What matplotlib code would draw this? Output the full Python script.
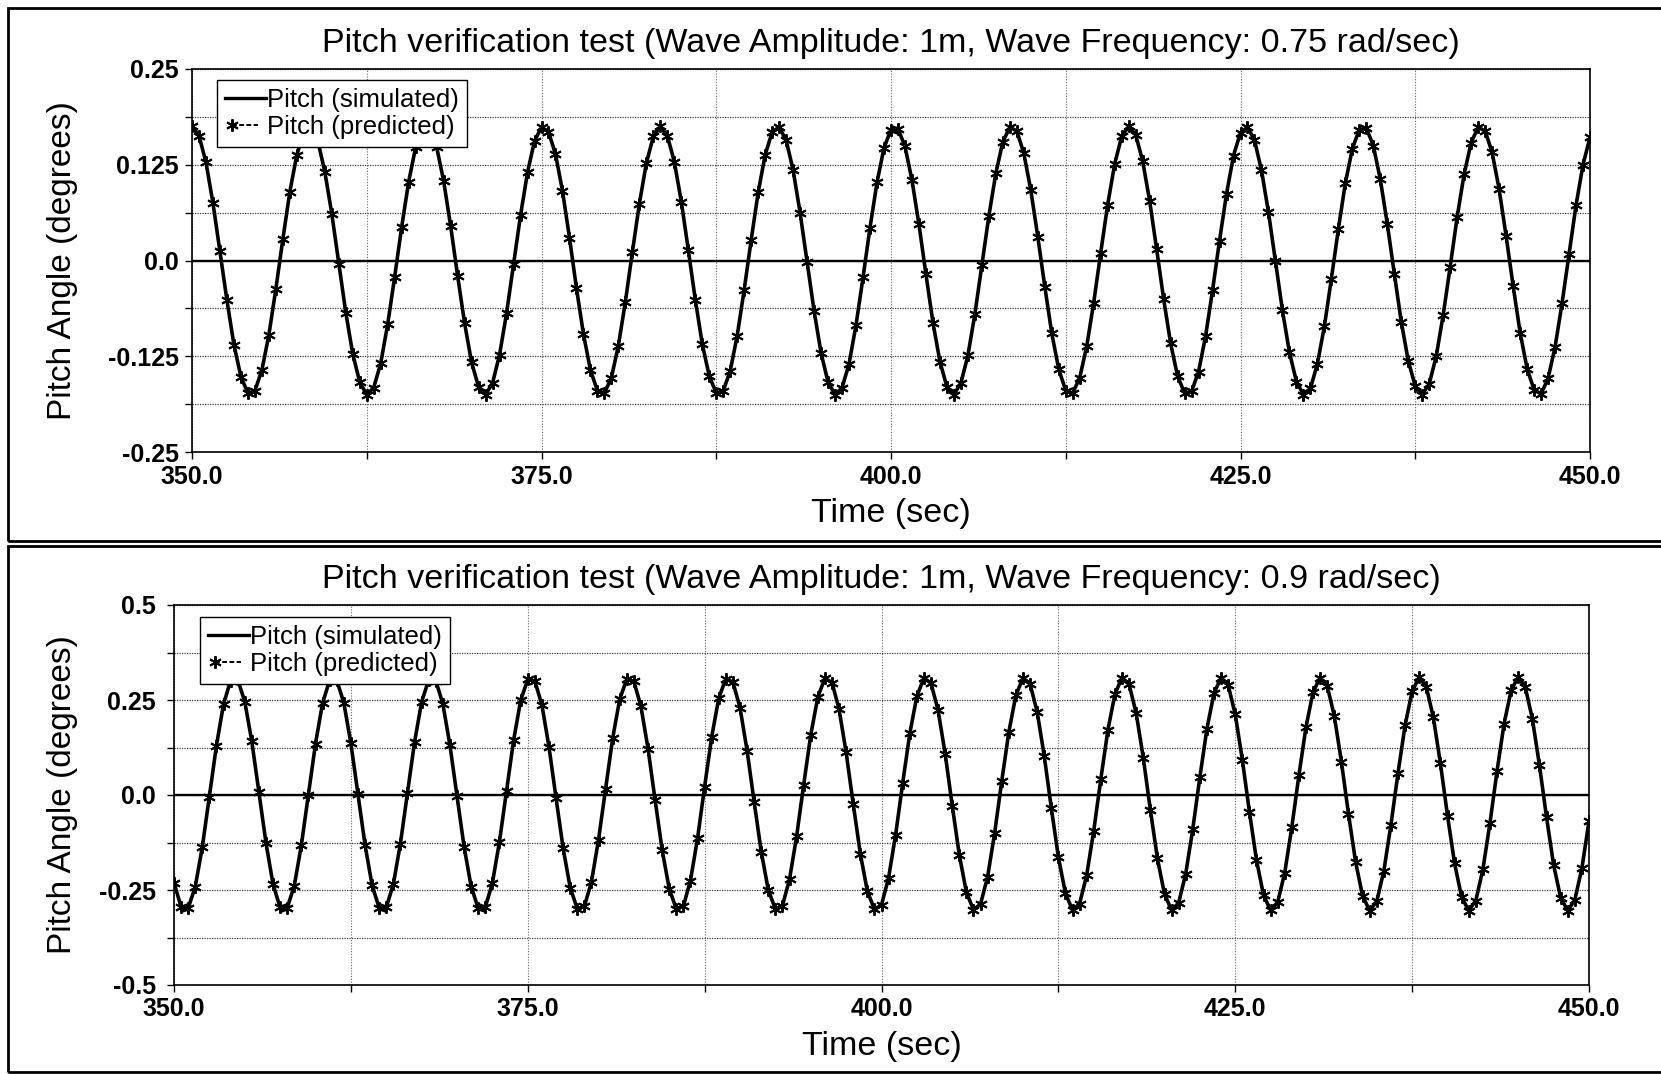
# pitch verification plots: simulated vs predicted pitch, two wave frequencies
import numpy as np
import matplotlib
matplotlib.use('Agg')
import matplotlib.pyplot as plt
from matplotlib.lines import Line2D
from matplotlib.patches import Rectangle
from matplotlib.legend_handler import HandlerLine2D
from matplotlib.ticker import FixedLocator, MultipleLocator

plt.rcParams['font.family'] = ['Liberation Sans', 'DejaVu Sans']

# sample times of the predicted points (0.5 s spacing)
time_s = np.arange(350.0, 450.5, 0.5)

# pitch (deg); simulated and predicted overlap
pitch_075 = [
    0.175, 0.163, 0.128, 0.075, 0.012, -0.052, -0.110, -0.152, -0.173, -0.170,
    -0.143, -0.097, -0.037, 0.028, 0.090, 0.138, 0.168,
    0.174, 0.156, 0.116, 0.061, -0.004, -0.068, -0.122, -0.159, -0.175, -0.166,
    -0.134, -0.083, -0.021, 0.044, 0.103, 0.148, 0.172,
    0.172, 0.148, 0.104, 0.045, -0.020, -0.082, -0.133, -0.165, -0.175, -0.160,
    -0.123, -0.069, -0.005, 0.059, 0.115, 0.156, 0.174,
    0.168, 0.139, 0.091, 0.030, -0.036, -0.096, -0.143, -0.170, -0.173, -0.153,
    -0.111, -0.054, 0.011, 0.074, 0.127, 0.162, 0.175,
    0.163, 0.129, 0.077, 0.014, -0.051, -0.109, -0.151, -0.173, -0.170, -0.144,
    -0.098, -0.038, 0.027, 0.089, 0.138, 0.168,
    0.174, 0.157, 0.118, 0.062, -0.002, -0.066, -0.121, -0.159, -0.175, -0.166,
    -0.135, -0.084, -0.022, 0.043, 0.102, 0.147, 0.171,
    0.172, 0.149, 0.105, 0.047, -0.018, -0.081, -0.132, -0.165, -0.175, -0.160,
    -0.124, -0.070, -0.006, 0.058, 0.114, 0.155, 0.174,
    0.169, 0.140, 0.092, 0.031, -0.034, -0.095, -0.142, -0.170, -0.173, -0.153,
    -0.112, -0.055, 0.010, 0.073, 0.126, 0.162, 0.175,
    0.164, 0.130, 0.078, 0.015, -0.050, -0.108, -0.151, -0.173, -0.171, -0.145,
    -0.099, -0.039, 0.026, 0.087, 0.137, 0.167,
    0.174, 0.157, 0.118, 0.063, -0.001, -0.065, -0.120, -0.158, -0.175, -0.167,
    -0.135, -0.086, -0.024, 0.041, 0.101, 0.146, 0.171,
    0.173, 0.150, 0.106, 0.048, -0.017, -0.080, -0.131, -0.164, -0.175, -0.161,
    -0.125, -0.071, -0.008, 0.057, 0.113, 0.154, 0.174,
    0.169, 0.141, 0.093, 0.032, -0.033, -0.094, -0.141, -0.169, -0.174, -0.154,
    -0.113, -0.056, 0.008, 0.072, 0.125, 0.161,
]

# pitch (deg)
pitch_090 = [
    -0.231, -0.294, -0.298, -0.242, -0.137, -0.004, 0.130, 0.239, 0.301,
    0.304, 0.246, 0.141, 0.008, -0.126, -0.235, -0.296, -0.297, -0.239, -0.132,
    0.001, 0.135, 0.242, 0.302,
    0.302, 0.243, 0.136, 0.003, -0.131, -0.238, -0.297, -0.296, -0.235, -0.128,
    0.006, 0.139, 0.245, 0.303,
    0.301, 0.240, 0.131, -0.003, -0.136, -0.241, -0.298, -0.295, -0.232, -0.123,
    0.011, 0.144, 0.249, 0.304,
    0.300, 0.237, 0.127, -0.008, -0.140, -0.244, -0.299, -0.293, -0.229, -0.118,
    0.016, 0.149, 0.252, 0.305,
    0.299, 0.233, 0.122, -0.013, -0.145, -0.247, -0.300, -0.292, -0.225, -0.114,
    0.022, 0.153, 0.255, 0.306,
    0.297, 0.230, 0.117, -0.018, -0.149, -0.250, -0.300, -0.291, -0.222, -0.109,
    0.027, 0.158, 0.258, 0.307,
    0.296, 0.226, 0.112, -0.023, -0.154, -0.253, -0.301, -0.289, -0.218, -0.104,
    0.032, 0.162, 0.260, 0.308,
    0.294, 0.223, 0.108, -0.028, -0.158, -0.256, -0.302, -0.287, -0.215, -0.099,
    0.037, 0.166, 0.263, 0.308,
    0.292, 0.219, 0.103, -0.034, -0.163, -0.259, -0.303, -0.286, -0.211, -0.094,
    0.042, 0.171, 0.266, 0.309,
    0.291, 0.215, 0.098, -0.039, -0.167, -0.261, -0.303, -0.284, -0.207, -0.089,
    0.047, 0.175, 0.268, 0.309,
    0.289, 0.212, 0.093, -0.044, -0.171, -0.264, -0.303, -0.282, -0.204, -0.084,
    0.052, 0.179, 0.271, 0.309,
    0.287, 0.208, 0.088, -0.049, -0.175, -0.266, -0.304, -0.280, -0.200, -0.079,
    0.057, 0.183, 0.273, 0.310,
    0.285, 0.204, 0.083, -0.054, -0.180, -0.269, -0.304, -0.278, -0.196, -0.074,
    0.063, 0.188, 0.276, 0.310,
    0.283, 0.200, 0.078, -0.059, -0.184, -0.271, -0.304, -0.276, -0.192, -0.069,
]

titles = [
    'Pitch verification test (Wave Amplitude: 1m, Wave Frequency: 0.75 rad/sec)',
    'Pitch verification test (Wave Amplitude: 1m, Wave Frequency: 0.9 rad/sec)',
]
xticks = [350.0, 375.0, 400.0, 425.0, 450.0]
xtick_labels = ['350.0', '375.0', '400.0', '425.0', '450.0']
yticks_075 = [-0.25, -0.125, 0.0, 0.125, 0.25]
ylabels_075 = ['-0.25', '-0.125', '0.0', '0.125', '0.25']
yticks_090 = [-0.5, -0.25, 0.0, 0.25, 0.5]
ylabels_090 = ['-0.5', '-0.25', '0.0', '0.25', '0.5']
legend_labels = ['Pitch (simulated)', 'Pitch (predicted)']

W, H = 1661, 1074
STAR = (6, 2, 0)


class StartMarker(HandlerLine2D):
    # legend sample "*---" : marker only at the left end
    def create_artists(self, *args, **kwargs):
        arts = super().create_artists(*args, **kwargs)
        for a in arts:
            a.set_markevery([0])
        return arts


def fx(px):
    return px / W


def fy(py):
    return 1 - py / H


fig = plt.figure(figsize=(W / 100, H / 100), dpi=100)

# outer frames around each chart
for top_px, bot_px in [(8, 541), (546, 1072)]:
    fig.add_artist(Rectangle((fx(8), fy(bot_px)), 1.02, fy(top_px) - fy(bot_px),
                             transform=fig.transFigure, fill=False,
                             edgecolor='black', lw=2.0, clip_on=False))

panels = [
    # left, right, top, bottom (px), data, title, yticks, ylabels, minor step,
    # legend corner, ytick pad
    (192, 1590, 69, 452, pitch_075, titles[0], yticks_075, ylabels_075, 0.0625,
     (217, 80), 4.5),
    (174, 1589, 605, 985, pitch_090, titles[1], yticks_090, ylabels_090, 0.125,
     (200, 617), 8),
]

for (l, r, t, b, values, title, yt, yl, ystep, leg_xy, ypad) in panels:
    ax = fig.add_axes([fx(l), fy(b), fx(r) - fx(l), fy(t) - fy(b)])
    ax.set_xlim(350, 450)
    ax.set_ylim(yt[0], yt[-1])

    ax.plot(time_s, values, color='black', lw=2.6, zorder=3)
    ax.plot(time_s, values, color='black', lw=1.1, ls=(0, (3, 2)),
            marker=STAR, ms=9, mew=1.4, zorder=4)
    ax.axhline(0, color='black', lw=1.7, zorder=2)

    ax.xaxis.set_major_locator(FixedLocator(xticks))
    ax.set_xticklabels(xtick_labels)
    ax.xaxis.set_minor_locator(MultipleLocator(12.5))
    ax.yaxis.set_major_locator(FixedLocator(yt))
    ax.set_yticklabels(yl)
    ax.yaxis.set_minor_locator(MultipleLocator(ystep))

    ax.grid(which='both', axis='x', color='0.4', lw=0.8, ls=(0, (1, 1.5)))
    ax.grid(which='both', axis='y', color='0.25', lw=0.9, ls=(0, (1, 1)))
    ax.set_axisbelow(True)

    ax.tick_params(which='both', direction='out', length=5, width=1.0,
                   color='black')
    ax.tick_params(axis='x', labelsize=18, pad=4)
    ax.tick_params(axis='y', labelsize=18, pad=ypad)
    for lab in ax.get_xticklabels() + ax.get_yticklabels():
        lab.set_fontweight('bold')
    for sp in ax.spines.values():
        sp.set_color('black')
        sp.set_linewidth(1.2)

    ax.set_title(title, fontsize=24.5, pad=12)
    ax.set_xlabel('Time (sec)', fontsize=24.5)
    ax.xaxis.set_label_coords(0.5, -46 / (b - t))
    ax.set_ylabel('Pitch Angle (degrees)', fontsize=24)
    ax.yaxis.set_label_coords((78 - l) / (r - l), 0.5)

    h_sim = Line2D([], [], color='black', lw=2.4)
    h_pred = Line2D([], [], color='black', lw=1.4, ls=(0, (2.5, 1.2)),
                    marker=STAR, ms=9, mew=1.4)
    leg = ax.legend([h_sim, h_pred], legend_labels, loc='upper left',
                    bbox_to_anchor=(fx(leg_xy[0]), fy(leg_xy[1])),
                    bbox_transform=fig.transFigure, borderaxespad=0,
                    handler_map={h_pred: StartMarker(numpoints=2)},
                    handlelength=1.6, handletextpad=0.05, labelspacing=0.12,
                    borderpad=0.3, fancybox=False, framealpha=1,
                    edgecolor='black', fontsize=18.5)
    leg.get_frame().set_linewidth(1.0)

fig.savefig('out.png', dpi=100)
